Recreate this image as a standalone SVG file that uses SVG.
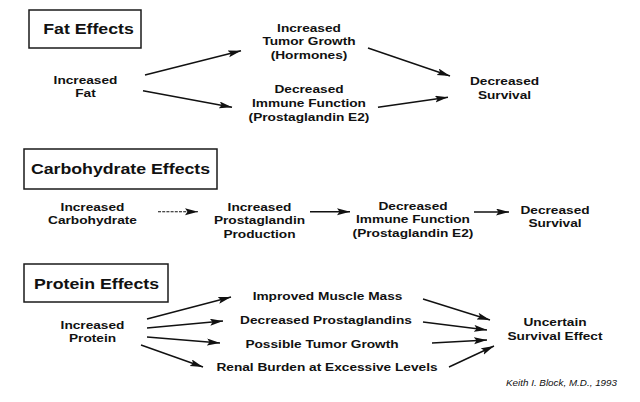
<svg xmlns="http://www.w3.org/2000/svg" width="640" height="402" viewBox="0 0 640 402">
<style>
text{font-family:"Liberation Sans",Arial,Helvetica,sans-serif;font-weight:bold;fill:#111;}
.b{font-size:11.8px;text-anchor:middle;}
.t{font-size:15.3px;text-anchor:middle;}
.c{font-size:8.5px;font-weight:normal;font-style:italic;}
.box{fill:none;stroke:#1a1a1a;stroke-width:1.5;}
.ar{stroke:#111;stroke-width:1.4;fill:none;marker-end:url(#ah);}
.dash{stroke-width:1.1;stroke-dasharray:3 1.2;}
</style>
<defs>
<marker id="ah" markerUnits="userSpaceOnUse" markerWidth="14" markerHeight="8" refX="13" refY="3.5" orient="auto">
<path d="M0,0 L13,3.5 L0,7 L2.5,3.5 Z" fill="#111"/>
</marker>
</defs>
<rect width="640" height="402" fill="#fff"/>

<g id="fat-title"><rect class="box" x="29" y="10" width="112" height="38"/>
<text class="t" transform="translate(88.5 0) scale(1.16 1)" y="34.3">Fat Effects</text></g>
<g id="fat-increased" transform="translate(85.5 0) scale(1.16 1)">
<text class="b" y="84">Increased</text><text class="b" y="97.3">Fat</text></g>
<g id="fat-tumor" transform="translate(309 0) scale(1.16 1)">
<text class="b" y="31.7">Increased</text><text class="b" y="45.3">Tumor Growth</text><text class="b" y="58.8">(Hormones)</text></g>
<g id="fat-immune" transform="translate(309 0) scale(1.16 1)">
<text class="b" y="93.3">Decreased</text><text class="b" y="107">Immune Function</text><text class="b" y="120.7">(Prostaglandin E2)</text></g>
<g id="fat-survival" transform="translate(504.5 0) scale(1.16 1)">
<text class="b" y="85">Decreased</text><text class="b" y="99">Survival</text></g>

<g id="carb-title"><rect class="box" x="24" y="149" width="193" height="40"/>
<text class="t" transform="translate(120.5 0) scale(1.16 1)" y="174">Carbohydrate Effects</text></g>
<g id="carb-increased" transform="translate(92.5 0) scale(1.16 1)">
<text class="b" y="211">Increased</text><text class="b" y="224.3">Carbohydrate</text></g>
<g id="carb-prostaglandin" transform="translate(259.5 0) scale(1.16 1)">
<text class="b" y="211">Increased</text><text class="b" y="224.3">Prostaglandin</text><text class="b" y="237.7">Production</text></g>
<g id="carb-immune" transform="translate(413 0) scale(1.16 1)">
<text class="b" y="210">Decreased</text><text class="b" y="223.3">Immune Function</text><text class="b" y="236.7">(Prostaglandin E2)</text></g>
<g id="carb-survival" transform="translate(555 0) scale(1.16 1)">
<text class="b" y="214">Decreased</text><text class="b" y="227.3">Survival</text></g>

<g id="protein-title"><rect class="box" x="24" y="264" width="144" height="38"/>
<text class="t" transform="translate(96.5 0) scale(1.16 1)" y="289">Protein Effects</text></g>
<g id="protein-increased" transform="translate(92.5 0) scale(1.16 1)">
<text class="b" y="329">Increased</text><text class="b" y="342.3">Protein</text></g>
<g id="protein-muscle" transform="translate(327.5 0) scale(1.16 1)"><text class="b" y="300">Improved Muscle Mass</text></g>
<g id="protein-prostaglandins" transform="translate(326 0) scale(1.16 1)"><text class="b" y="324">Decreased Prostaglandins</text></g>
<g id="protein-tumor" transform="translate(322 0) scale(1.16 1)"><text class="b" y="348">Possible Tumor Growth</text></g>
<g id="protein-renal" transform="translate(327 0) scale(1.16 1)"><text class="b" y="371">Renal Burden at Excessive Levels</text></g>
<g id="protein-uncertain" transform="translate(555 0) scale(1.16 1)">
<text class="b" y="326">Uncertain</text><text class="b" y="340">Survival Effect</text></g>
<g id="citation"><text class="c" transform="translate(506 0) scale(1.16 1)" y="385.7">Keith I. Block, M.D., 1993</text></g>

<g id="connectors">
<line class="ar" x1="145" y1="75" x2="241" y2="50.7"/>
<line class="ar" x1="143" y1="90.7" x2="232" y2="107.3"/>
<line class="ar" x1="368" y1="48" x2="450" y2="76"/>
<line class="ar" x1="378" y1="107.3" x2="448" y2="97.3"/>
<line class="ar dash" x1="158" y1="211.7" x2="198" y2="211.7"/>
<line class="ar" x1="310" y1="211.7" x2="350" y2="211.7"/>
<line class="ar" x1="474" y1="212" x2="509" y2="212"/>
<line class="ar" x1="147" y1="319" x2="231" y2="297"/>
<line class="ar" x1="147" y1="328" x2="223" y2="321"/>
<line class="ar" x1="147" y1="337" x2="220" y2="343"/>
<line class="ar" x1="141" y1="345" x2="203" y2="367"/>
<line class="ar" x1="423" y1="299" x2="490" y2="320"/>
<line class="ar" x1="423" y1="322" x2="487" y2="330"/>
<line class="ar" x1="432" y1="343" x2="487" y2="340"/>
<line class="ar" x1="449" y1="367" x2="494" y2="346"/>
</g>
</svg>
